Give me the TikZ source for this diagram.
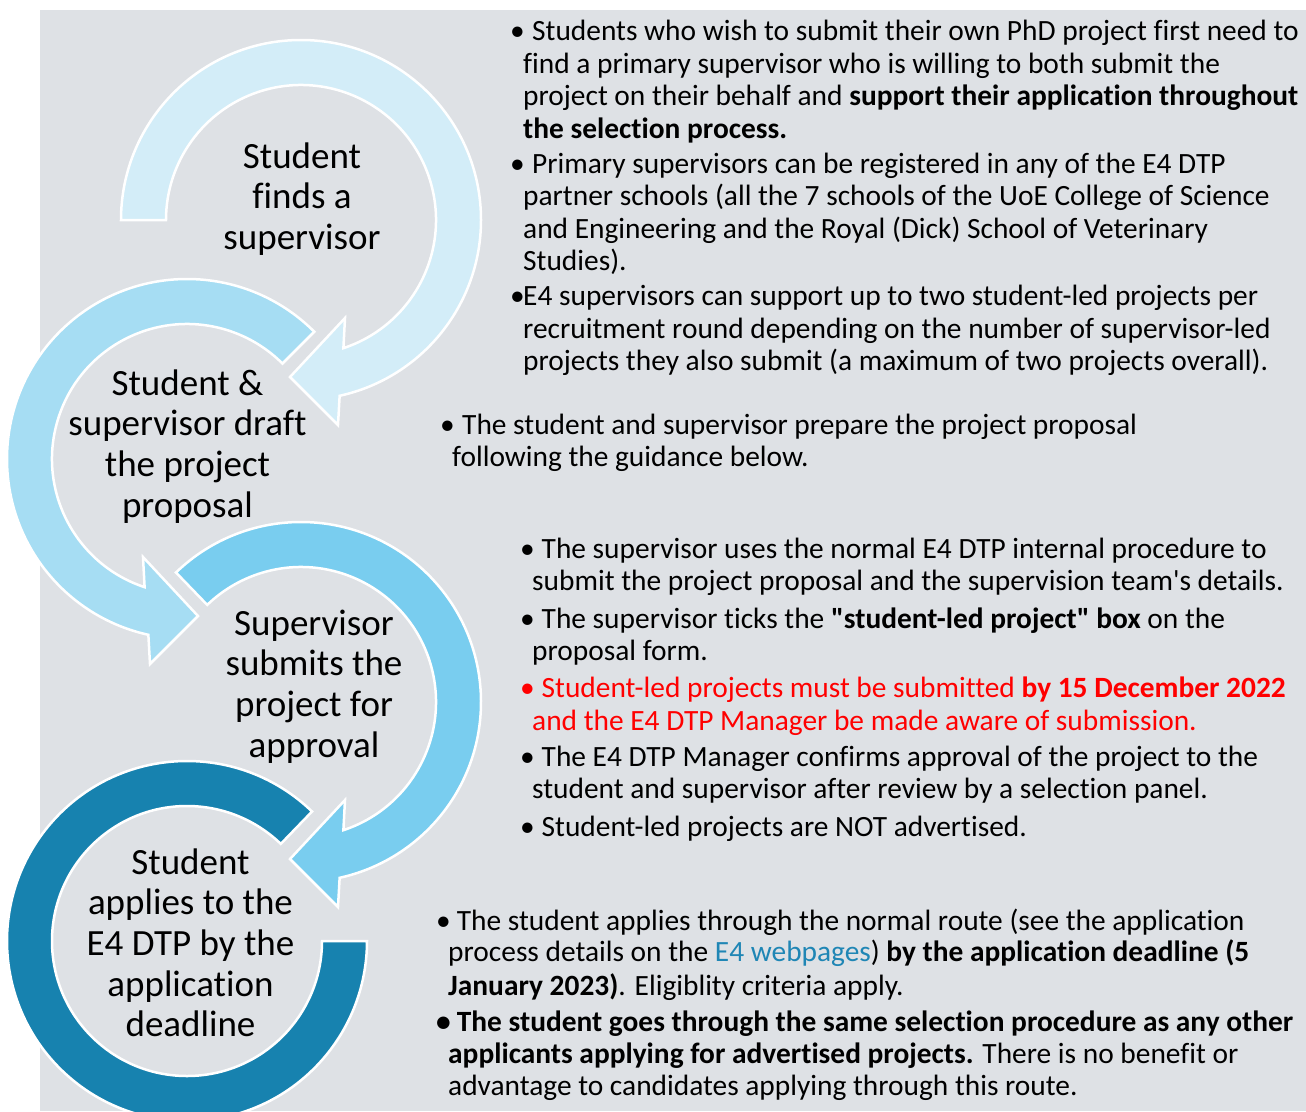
\documentclass[tikz,border=0pt]{standalone}
\usepackage{fontspec}
\setmainfont{Carlito}[Ligatures={TeXOff,NoCommon}]
\definecolor{bgc}{HTML}{DEE1E5}
\definecolor{ca}{HTML}{D3EDF8}
\definecolor{cb}{HTML}{A6DDF3}
\definecolor{cc}{HTML}{79CDEF}
\definecolor{cd}{HTML}{1782AF}
\definecolor{linkc}{HTML}{1F86B5}
\definecolor{redc}{HTML}{FF0000}
\begin{document}
\begin{tikzpicture}[x=1pt,y=-1pt,
  arr/.style={draw=white, line width=2.5pt, line join=miter},
  ctext/.style={font=\fontsize{37}{40.7}\selectfont, anchor=base, inner sep=0pt},
  rtext/.style={font=\fontsize{29.4}{32.5}\selectfont, anchor=base west, inner sep=0pt},
  bul/.style={rtext}]
\useasboundingbox (0,0) rectangle (1306,1111);
\fill[bgc] (40,10) rectangle (1306,1111);
\begin{scope}
\clip (0,0) rectangle (1306,1111);
% arrow 1
\begin{scope}[shift={(301,220)}]
\filldraw[arr, fill=ca] (180:180) arc[start angle=180, end angle=437.6, radius=180]
  -- (37,205) -- (-11,157) -- (44,98) -- (431.7:135)
  arc[start angle=431.7, end angle=180, radius=135] -- cycle;
\end{scope}
% arrow 2
\begin{scope}[shift={(187,459)}]
\filldraw[arr, fill=cb] (-45:180) arc[start angle=-45, end angle=-257.6, radius=180]
  -- (-37,205) -- (11,157) -- (-44,98) -- (-251.7:135)
  arc[start angle=-251.7, end angle=-45, radius=135] -- cycle;
\end{scope}
% arrow 3
\begin{scope}[shift={(301,702)}]
\filldraw[arr, fill=cc] (-134:180) arc[start angle=-134, end angle=77.6, radius=180]
  -- (37,205) -- (-11,157) -- (44,98) -- (71.7:135)
  arc[start angle=71.7, end angle=-134, radius=135] -- cycle;
\end{scope}
% arrow 4
\begin{scope}[shift={(187,941)}]
\filldraw[arr, fill=cd] (-46:180) arc[start angle=-46, end angle=-360, radius=180]
  -- (-360:135) arc[start angle=-360, end angle=-46, radius=135] -- cycle;
\end{scope}
\end{scope}
% circle texts
\node[ctext] (s1) at (302,168) {\begin{tabular}[t]{@{}c@{}}Student\\finds a\\supervisor\end{tabular}};
\node[ctext] (s2) at (187.5,395) {\begin{tabular}[t]{@{}c@{}}Student \&\\supervisor draft\\the project\\proposal\end{tabular}};
\node[ctext] (s3) at (314,635) {\begin{tabular}[t]{@{}c@{}}Supervisor\\submits the\\project for\\approval\end{tabular}};
\node[ctext] (s4) at (190.5,874) {\begin{tabular}[t]{@{}c@{}}Student\\applies to the\\E4 DTP by the\\application\\deadline\end{tabular}};
% paragraph 1
\node[bul] (b1) at (510,40.7) {•};
\node[rtext] (l1a) at (532,40.7) {Students who wish to submit their own PhD project first need to};
\node[rtext] (l1b) at (523,73) {find a primary supervisor who is willing to both submit the};
\node[rtext] (l1c) at (523,105.5) {project on their behalf and \textbf{support their application throughout}};
\node[rtext] (l1d) at (523,138) {\textbf{the selection process.}};
% paragraph 2
\node[bul] (b2) at (510,173) {•};
\node[rtext] (l2a) at (532,173) {Primary supervisors can be registered in any of the E4 DTP};
\node[rtext] (l2b) at (523,205.5) {partner schools (all the 7 schools of the UoE College of Science};
\node[rtext] (l2c) at (523,238) {and Engineering and the Royal (Dick) School of Veterinary};
\node[rtext] (l2d) at (523,270.5) {Studies).};
% paragraph 3
\node[bul] (b3) at (510,305.5) {•};
\node[rtext] (l3a) at (523,305.5) {E4 supervisors can support up to two student-led projects per};
\node[rtext] (l3b) at (523,338) {recruitment round depending on the number of supervisor-led};
\node[rtext] (l3c) at (523,370.5) {projects they also submit (a maximum of two projects overall).};
% paragraph 4
\node[bul] (b4) at (440,434.3) {•};
\node[rtext] (l4a) at (462,434.3) {The student and supervisor prepare the project proposal};
\node[rtext] (l4b) at (452,466.7) {following the guidance below.};
% paragraph 5
\node[bul] (b5) at (520,558.3) {•};
\node[rtext] (l5a) at (541.5,558.3) {The supervisor uses the normal E4 DTP internal procedure to};
\node[rtext] (l5b) at (532,590) {submit the project proposal and the supervision team's details.};
\node[bul] (b6) at (520,628) {•};
\node[rtext] (l6a) at (541.5,628) {The supervisor ticks the \textbf{"student-led project" box} on the};
\node[rtext] (l6b) at (532,660) {proposal form.};
\node[bul, text=redc] (b7) at (520,697.7) {•};
\node[rtext, text=redc] (l7a) at (541.5,697.7) {Student-led projects must be submitted \textbf{by 15 December 2022}};
\node[rtext, text=redc] (l7b) at (532,730) {and the E4 DTP Manager be made aware of submission.};
\node[bul] (b8) at (520,766.7) {•};
\node[rtext] (l8a) at (541.5,766.7) {The E4 DTP Manager confirms approval of the project to the};
\node[rtext] (l8b) at (532,798.5) {student and supervisor after review by a selection panel.};
\node[bul] (b9) at (520,836.7) {•};
\node[rtext] (l9a) at (541.5,836.7) {Student-led projects are NOT advertised.};
% paragraph 6
\node[bul] (b10) at (436,930) {•};
\node[rtext] (l10a) at (456.7,930) {The student applies through the normal route (see the application};
\node[rtext] (l10b) at (448,961.7) {process details on the {\color{linkc}E4 webpages}) \textbf{by the application deadline (5}};
\node[rtext] (l10c) at (448,995) {\textbf{January 2023)}. Eligiblity criteria apply.};
\node[bul] (b11) at (436,1031.7) {\textbf{•}};
\node[rtext] (l11a) at (456.7,1031.7) {\textbf{The student goes through the same selection procedure as any other}};
\node[rtext] (l11b) at (448,1063.3) {\textbf{applicants applying for advertised projects.} There is no benefit or};
\node[rtext] (l11c) at (448,1095) {advantage to candidates applying through this route.};
\end{tikzpicture}
\end{document}
